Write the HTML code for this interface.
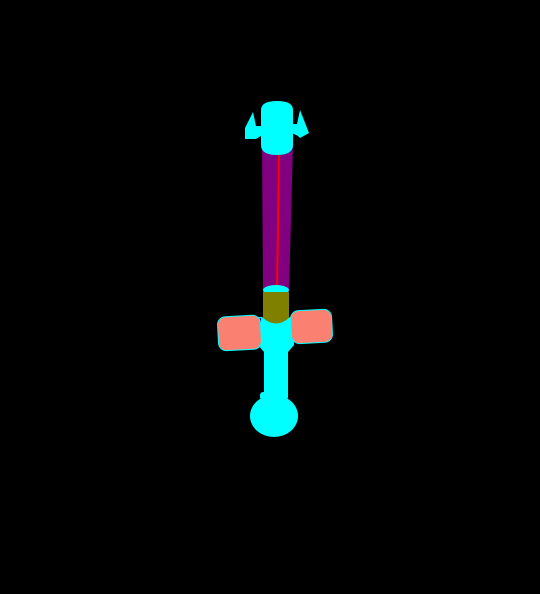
<!DOCTYPE html>
<html><head><meta charset="utf-8"><style>
html,body{margin:0;padding:0;background:#000;width:540px;height:594px;overflow:hidden}
svg{display:block}
</style></head><body>
<svg width="540" height="594" viewBox="0 0 540 594">
<rect width="540" height="594" fill="#000"/>
<polygon points="262,145 293,145 289,292 263,292" fill="#800080"/>
<line x1="279" y1="153" x2="277" y2="292" stroke="#ff0000" stroke-width="2"/>
<g>
<polygon points="245,128 253,112 256,126 264,126 264,134 256,139 245,139" fill="#00ffff"/>
<polygon points="309,133 300,110 297,124 290,124 290,132 298,136 300,138" fill="#00ffff"/>
<path d="M261,110 Q261,101 277,101 Q293,101 293,110 L293,145 Q293,155 277,155 Q261,155 261,145 Z" fill="#00ffff"/>
</g>
<ellipse cx="276" cy="290" rx="13" ry="5" fill="#00ffff"/>
<path d="M263,292 L289,292 L289,320 Q276,328 263,320 Z" fill="#808000"/>
<path d="M258,317 L262,317 Q276,330 290,317 L294,317 L294,345 L288,352 L288,395 L264,395 L264,352 L258,345 Z" fill="#00ffff"/>
<line x1="260" y1="318" x2="260" y2="330" stroke="#0000ff" stroke-width="2"/>
<line x1="292" y1="317" x2="292" y2="329" stroke="#0000ff" stroke-width="2"/>
<rect x="218" y="316" width="43" height="34" rx="8" fill="#fa8072" stroke="#00ffff" stroke-width="1" transform="rotate(-3 239 333)"/>
<rect x="291" y="310" width="41" height="33" rx="8" fill="#fa8072" stroke="#00ffff" stroke-width="1" transform="rotate(-3 311 326)"/>
<ellipse cx="274" cy="416" rx="24" ry="21" fill="#00ffff"/>
<rect x="260" y="392" width="28" height="8" rx="3" fill="#00ffff"/>
</svg>
</body></html>
